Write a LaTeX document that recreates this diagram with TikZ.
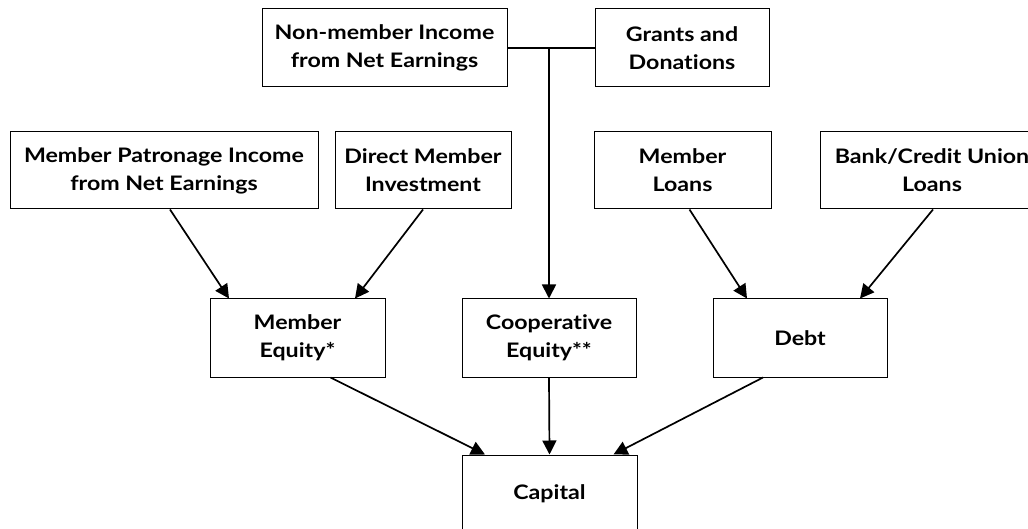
\documentclass[tikz,border=0pt]{standalone}
\usepackage{fontspec}
\setmainfont{Lato}[FakeStretch=1.16, Ligatures=NoCommon]
\usetikzlibrary{arrows.meta}
\tikzset{
  box/.style={draw=black, line width=1pt, fill=white, inner sep=0pt, align=center,
    font=\fontsize{20}{28}\selectfont\bfseries, minimum height=78pt},
  arr/.style={line width=1.7pt, -{Triangle[length=14pt,width=14pt]}},
  link/.style={line width=1.7pt}
}
\begin{document}
\begin{tikzpicture}[x=1pt,y=-1pt]
\useasboundingbox (0,0) rectangle (1028,529);
\clip (0,0) rectangle (1028,529);
\node[box, minimum width=245pt] (nonmem) at (384.5,48) {Non-member Income\\from Net Earnings};
\node[box, minimum width=174pt] (grants) at (682,48) {Grants and\\Donations};
\node[box, minimum width=308pt, minimum height=77pt] (patron) at (164,170.5) {Member Patronage Income\\from Net Earnings};
\node[box, minimum width=176pt, minimum height=77pt] (direct) at (423,170.5) {Direct Member\\Investment};
\node[box, minimum width=177pt, minimum height=77pt] (mloans) at (682.5,170.5) {Member\\Loans};
\node[box, minimum width=224pt, minimum height=77pt] (bank) at (932,170.5) {Bank/Credit Union\\Loans};
\node[box, minimum width=175pt] (meq) at (297.5,338) {Member\\Equity*};
\node[box, minimum width=174pt] (coop) at (549,338) {Cooperative\\Equity**};
\node[box, minimum width=174pt] (debt) at (800,338) {Debt};
\node[box, minimum width=175pt] (capital) at (549.5,494) {Capital};

\draw[link] (nonmem.east) -- (grants.west);
\coordinate (junc) at (nonmem.east -| coop.north);
\draw[arr] (junc) -- (coop.north);

\draw[arr] ([xshift=6pt]patron.south) -- ([xshift=-68.5pt]meq.north);
\draw[arr] (direct.south) -- ([xshift=57.5pt]meq.north);
\draw[arr] ([xshift=7pt]mloans.south) -- ([xshift=-53pt]debt.north);
\draw[arr] ([xshift=1pt]bank.south) -- ([xshift=60pt]debt.north);
\draw[arr] ([xshift=33pt]meq.south) -- ([xshift=-64.5pt]capital.north);
\draw[arr] (coop.south) -- (capital.north);
\draw[arr] ([xshift=-37pt]debt.south) -- ([xshift=64pt]capital.north);
\end{tikzpicture}
\end{document}
